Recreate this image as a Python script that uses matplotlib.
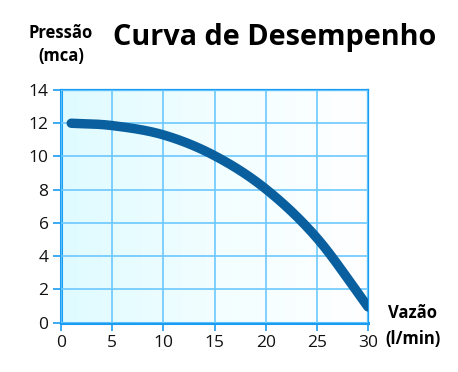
import numpy as np
import matplotlib
matplotlib.use("Agg")
import matplotlib.pyplot as plt
from matplotlib.colors import LinearSegmentedColormap

vazao = [1, 5, 10, 15, 20, 25, 30]
pressao = [12.0, 11.86, 11.3, 10.05, 8.05, 5.1, 0.95]
x_ticks = [0, 5, 10, 15, 20, 25, 30]
y_ticks = [0, 2, 4, 6, 8, 10, 12, 14]

plt.rcParams['font.family'] = ['Open Sans', 'DejaVu Sans']


def catmull_rom(xs, ys, n=30):
    xs = np.asarray(xs, float)
    ys = np.asarray(ys, float)
    P = np.column_stack([xs, ys])
    P = np.vstack([2 * P[0] - P[1], P, 2 * P[-1] - P[-2]])
    out = []
    t = np.linspace(0, 1, n, endpoint=False)[:, None]
    for i in range(1, len(P) - 2):
        p0, p1, p2, p3 = P[i - 1], P[i], P[i + 1], P[i + 2]
        seg = 0.5 * ((2 * p1) + (-p0 + p2) * t + (2 * p0 - 5 * p1 + 4 * p2 - p3) * t ** 2
                     + (-p0 + 3 * p1 - 3 * p2 + p3) * t ** 3)
        out.append(seg)
    out.append(P[-2][None, :])
    out = np.vstack(out)
    return out[:, 0], out[:, 1]


fig = plt.figure(figsize=(4.58, 3.72), dpi=100)
ax = fig.add_axes([61/458, 1-322.7/372, (368-61)/458, (322.7-90)/372])

cmap = LinearSegmentedColormap.from_list("bg", ["#dffbff", "#f2feff", "#ffffff"])
grad = np.linspace(0, 1, 256).reshape(1, -1)
ax.imshow(grad, extent=[0, 30, 0, 14], aspect='auto', cmap=cmap, zorder=0)

ax.set_xlim(0, 30)
ax.set_ylim(0, 14)
ax.set_xticks(x_ticks)
ax.set_yticks(y_ticks)
ax.grid(True, color="#6cc8ff", linewidth=1.2, zorder=1)
ax.set_axisbelow(False)

sx, sy = catmull_rom(vazao, pressao)
ax.plot(sx, sy, color="#0a609e", linewidth=6.8, solid_capstyle='round',
        solid_joinstyle='round', zorder=3)

for side, lw in [('left', 2.2), ('bottom', 2.2), ('top', 1.6), ('right', 1.6)]:
    ax.spines[side].set_color("#1a9cf2")
    ax.spines[side].set_linewidth(lw)
ax.tick_params(axis='both', colors="#1a9cf2", length=6, width=1.2, labelcolor="#111111",
               labelsize=12.5, pad=3)

fig.text(275/458, 1-45/372, "Curva de Desempenho", fontsize=20.8,
         fontweight='bold', ha='center', va='baseline', color='black')
fig.text(61/458, 1-33/372, "Pressão", fontsize=12, fontweight='bold', ha='center', va='center')
fig.text(61/458, 1-56/372, "(mca)", fontsize=12, fontweight='bold', ha='center', va='center')
fig.text(413/458, 1-313/372, "Vazão", fontsize=12, fontweight='bold', ha='center', va='center')
fig.text(413/458, 1-339/372, "(l/min)", fontsize=12, fontweight='bold', ha='center', va='center')

fig.savefig("out.png", dpi=100)
